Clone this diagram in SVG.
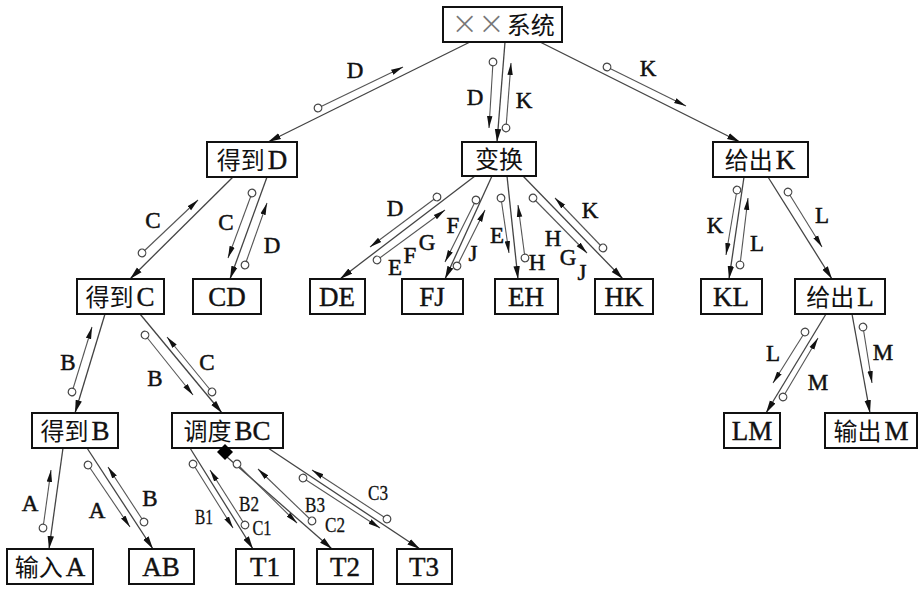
<svg xmlns="http://www.w3.org/2000/svg" width="923" height="599" viewBox="0 0 923 599">
<defs>
<marker id="arr" markerUnits="userSpaceOnUse" markerWidth="14" markerHeight="8" refX="13" refY="4" orient="auto"><path d="M0,0.8 L13,4 L0,7.2 z" fill="#111"/></marker>
<marker id="carr" markerUnits="userSpaceOnUse" markerWidth="13" markerHeight="7" refX="12" refY="3.5" orient="auto"><path d="M0,0.8 L12,3.5 L0,6.2 z" fill="#111"/></marker>
<marker id="circ" markerUnits="userSpaceOnUse" markerWidth="10" markerHeight="10" refX="5" refY="5" orient="auto"><circle cx="5" cy="5" r="3.8" fill="#fff" stroke="#444" stroke-width="1.2"/></marker>
</defs>
<style>
rect{fill:#fff;stroke:#111;stroke-width:2}
.n{font-family:"Liberation Serif","Noto Sans CJK SC",serif;font-size:27px;text-anchor:middle;fill:#111;stroke:#111;stroke-width:0.4}
.cj{font-family:"Noto Sans CJK SC",sans-serif;font-size:24px;stroke:none}
.l{font-family:"Liberation Serif",serif;font-size:23px;text-anchor:middle;fill:#111;stroke:#111;stroke-width:0.5}
.s{font-family:"Liberation Serif",serif;font-size:21px;text-anchor:middle;fill:#111;stroke:#111;stroke-width:0.3}
.c line{stroke:#444;stroke-width:1.3;marker-end:url(#arr)}
.d line{stroke:#555;stroke-width:1.1;marker-start:url(#circ);marker-end:url(#carr)}
</style>
<rect x="0" y="0" width="923" height="599" style="fill:#fff;stroke:none"/>

<g id="connectors">
<g class="c">
<line x1="470" y1="42" x2="268" y2="142"/>
<line x1="505" y1="42" x2="497" y2="142"/>
<line x1="540" y1="42" x2="740" y2="142"/>
<line x1="233" y1="177" x2="130" y2="279"/>
<line x1="267" y1="177" x2="230" y2="279"/>
<line x1="475" y1="176" x2="340" y2="279"/>
<line x1="492" y1="176" x2="445" y2="279"/>
<line x1="507" y1="176" x2="518" y2="279"/>
<line x1="523" y1="176" x2="623" y2="279"/>
<line x1="744" y1="177" x2="729" y2="279"/>
<line x1="768" y1="177" x2="832" y2="279"/>
<line x1="826" y1="314" x2="766" y2="413"/>
<line x1="852" y1="314" x2="870" y2="413"/>
<line x1="105" y1="314" x2="75" y2="413"/>
<line x1="140" y1="314" x2="222" y2="413"/>
<line x1="63" y1="448" x2="49" y2="549"/>
<line x1="87" y1="448" x2="153" y2="549"/>
<line x1="190" y1="448" x2="253" y2="549"/>
<line x1="227" y1="457" x2="332" y2="549"/>
<line x1="268" y1="448" x2="420" y2="549"/>
</g>
<g class="d">
<line x1="318" y1="108" x2="403" y2="67"/>
<line x1="493" y1="62" x2="489" y2="128"/>
<line x1="506" y1="128" x2="511" y2="63"/>
<line x1="607" y1="67" x2="686" y2="106"/>
<line x1="142" y1="253" x2="198" y2="200"/>
<line x1="252" y1="193" x2="228" y2="258"/>
<line x1="245" y1="265" x2="267" y2="203"/>
<line x1="437" y1="197" x2="370" y2="247"/>
<line x1="377" y1="260" x2="445" y2="210"/>
<line x1="476" y1="200" x2="445" y2="262"/>
<line x1="457" y1="266" x2="485" y2="210"/>
<line x1="501" y1="198" x2="509" y2="253"/>
<line x1="525" y1="258" x2="518" y2="205"/>
<line x1="533" y1="198" x2="587" y2="253"/>
<line x1="603" y1="248" x2="555" y2="198"/>
<line x1="737" y1="190" x2="726" y2="255"/>
<line x1="740" y1="265" x2="748" y2="198"/>
<line x1="788" y1="192" x2="822" y2="247"/>
<line x1="805" y1="332" x2="773" y2="383"/>
<line x1="783" y1="397" x2="818" y2="338"/>
<line x1="863" y1="327" x2="872" y2="383"/>
<line x1="72" y1="392" x2="92" y2="327"/>
<line x1="145" y1="335" x2="193" y2="395"/>
<line x1="212" y1="392" x2="167" y2="337"/>
<line x1="43" y1="528" x2="51" y2="470"/>
<line x1="88" y1="465" x2="130" y2="527"/>
<line x1="144" y1="522" x2="108" y2="467"/>
<line x1="193" y1="464" x2="233" y2="528"/>
<line x1="245" y1="525" x2="210" y2="470"/>
<line x1="237" y1="464" x2="297" y2="523"/>
<line x1="312" y1="521" x2="258" y2="469"/>
<line x1="303" y1="478" x2="380" y2="528"/>
<line x1="387" y1="519" x2="312" y2="470"/>
</g>
<g id="labels">
<text class="l" x="355" y="78">D</text>
<text class="l" x="475" y="105">D</text>
<text class="l" x="524" y="108">K</text>
<text class="l" x="648" y="76">K</text>
<text class="l" x="153" y="228">C</text>
<text class="l" x="226" y="230">C</text>
<text class="l" x="272" y="253">D</text>
<text class="l" x="395" y="216">D</text>
<text class="l" x="395" y="275">E</text>
<text class="l" x="410" y="263">F</text>
<text class="l" x="427" y="250">G</text>
<text class="l" x="453" y="233">F</text>
<text class="l" x="473" y="261">J</text>
<text class="l" x="497" y="243">E</text>
<text class="l" x="537" y="270">H</text>
<text class="l" x="553" y="246">H</text>
<text class="l" x="568" y="265">G</text>
<text class="l" x="582" y="280">J</text>
<text class="l" x="590" y="218">K</text>
<text class="l" x="715" y="233">K</text>
<text class="l" x="757" y="251">L</text>
<text class="l" x="822" y="223">L</text>
<text class="l" x="773" y="361">L</text>
<text class="l" x="818" y="390">M</text>
<text class="l" x="883" y="360">M</text>
<text class="l" x="68" y="370">B</text>
<text class="l" x="155" y="386">B</text>
<text class="l" x="207" y="370">C</text>
<text class="l" x="30" y="511">A</text>
<text class="l" x="97" y="518">A</text>
<text class="l" x="150" y="506">B</text>
<text class="s" x="204" y="524" textLength="18" lengthAdjust="spacingAndGlyphs">B1</text>
<text class="s" x="262" y="535" textLength="19" lengthAdjust="spacingAndGlyphs">C1</text>
<text class="s" x="249" y="511" textLength="20" lengthAdjust="spacingAndGlyphs">B2</text>
<text class="s" x="315" y="512" textLength="20" lengthAdjust="spacingAndGlyphs">B3</text>
<text class="s" x="335" y="532" textLength="20" lengthAdjust="spacingAndGlyphs">C2</text>
<text class="s" x="378" y="500" textLength="20" lengthAdjust="spacingAndGlyphs">C3</text>
</g>
</g>

<g id="n-root"><rect x="443" y="7" width="119" height="35"/><text class="n" x="503" y="34"><tspan fill="#777" style="font-family:'DejaVu Sans',sans-serif;font-weight:200;stroke:none" font-size="32">××</tspan><tspan class="cj" dx="2">系统</tspan></text></g>
<g id="n-huan"><rect x="462" y="142" width="74" height="34"/><text class="n" x="499" y="168"><tspan class="cj">变换</tspan></text></g>
<g id="n-dedD"><rect x="207" y="142" width="90" height="35"/><text class="n" x="252" y="169"><tspan class="cj">得到</tspan><tspan dx="3">D</tspan></text></g>
<g id="n-geiK"><rect x="713" y="142" width="95" height="35"/><text class="n" x="760" y="169"><tspan class="cj">给出</tspan><tspan dx="3">K</tspan></text></g>
<g id="n-dedC"><rect x="77" y="279" width="87" height="35"/><text class="n" x="120" y="306"><tspan class="cj">得到</tspan><tspan dx="3">C</tspan></text></g>
<g id="n-CD"><rect x="193" y="279" width="68" height="35"/><text class="n" x="227" y="306">CD</text></g>
<g id="n-DE"><rect x="310" y="279" width="55" height="35"/><text class="n" x="337" y="306">DE</text></g>
<g id="n-FJ"><rect x="402" y="279" width="61" height="35"/><text class="n" x="432" y="306">FJ</text></g>
<g id="n-EH"><rect x="495" y="279" width="63" height="35"/><text class="n" x="526" y="306">EH</text></g>
<g id="n-HK"><rect x="595" y="279" width="58" height="35"/><text class="n" x="624" y="306">HK</text></g>
<g id="n-KL"><rect x="701" y="279" width="61" height="35"/><text class="n" x="731" y="306">KL</text></g>
<g id="n-geiL"><rect x="795" y="279" width="90" height="35"/><text class="n" x="840" y="306"><tspan class="cj">给出</tspan><tspan dx="3">L</tspan></text></g>
<g id="n-dedB"><rect x="32" y="413" width="86" height="35"/><text class="n" x="75" y="440"><tspan class="cj">得到</tspan><tspan dx="3">B</tspan></text></g>
<g id="n-ddBC"><rect x="172" y="413" width="111" height="35"/><text class="n" x="227" y="440"><tspan class="cj">调度</tspan><tspan dx="3">BC</tspan></text><polygon points="225,444 233,452 225,460 217,452" fill="#000"/></g>
<g id="n-LM"><rect x="724" y="413" width="56" height="35"/><text class="n" x="752" y="440">LM</text></g>
<g id="n-outM"><rect x="825" y="413" width="92" height="35"/><text class="n" x="871" y="440"><tspan class="cj">输出</tspan><tspan dx="3">M</tspan></text></g>
<g id="n-inA"><rect x="7" y="549" width="86" height="35"/><text class="n" x="50" y="576"><tspan class="cj">输入</tspan><tspan dx="3">A</tspan></text></g>
<g id="n-AB"><rect x="129" y="549" width="65" height="35"/><text class="n" x="161" y="576">AB</text></g>
<g id="n-T1"><rect x="236" y="549" width="58" height="35"/><text class="n" x="265" y="576">T1</text></g>
<g id="n-T2"><rect x="317" y="549" width="56" height="35"/><text class="n" x="345" y="576">T2</text></g>
<g id="n-T3"><rect x="397" y="549" width="55" height="35"/><text class="n" x="424" y="576">T3</text></g>
</svg>
